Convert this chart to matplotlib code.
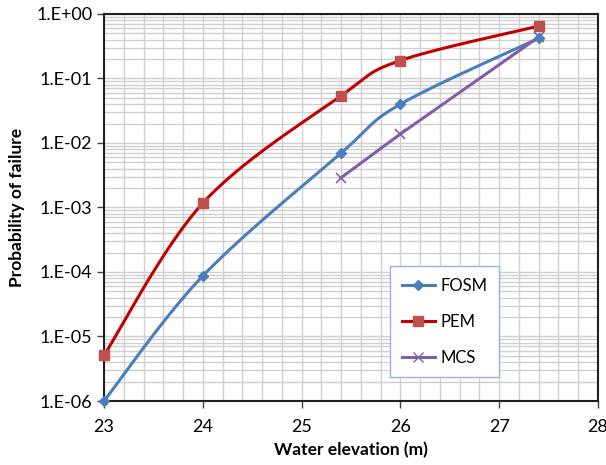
import numpy as np
import matplotlib
matplotlib.use("Agg")
import matplotlib.pyplot as plt
from matplotlib.ticker import FixedLocator, FuncFormatter, LogLocator, MultipleLocator
from matplotlib.lines import Line2D

plt.rcParams['font.family'] = ['Lato', 'DejaVu Sans']

fosm_x = [23.0, 24.0, 25.4, 26.0, 27.4]
fosm_y = [1.0e-6, 8.7e-5, 7.0e-3, 4.0e-2, 0.42]
pem_x = [23.0, 24.0, 25.4, 26.0, 27.4]
pem_y = [5.1e-6, 1.17e-3, 5.4e-2, 0.19, 0.65]
mcs_x = [25.4, 26.0, 27.4]
mcs_y = [2.9e-3, 1.38e-2, 0.44]
x_ticks = [23, 24, 25, 26, 27, 28]
y_ticks = [1e-6, 1e-5, 1e-4, 1e-3, 1e-2, 1e-1, 1e0]

def smooth(xs, ys, n=40):
    # Excel-like smoothed line (Catmull-Rom / Bezier) in x, log10(y) space
    px = np.array(xs, float)
    py = np.log10(np.array(ys, float))
    P = np.column_stack([px, py])
    P = np.vstack([P[0], P, P[-1]])
    out = []
    for i in range(1, len(P) - 2):
        p0, p1, p2, p3 = P[i-1], P[i], P[i+1], P[i+2]
        c1 = p1 + (p2 - p0) / 6.0
        c2 = p2 - (p3 - p1) / 6.0
        t = np.linspace(0, 1, n)[:, None]
        seg = ((1-t)**3)*p1 + 3*((1-t)**2)*t*c1 + 3*(1-t)*(t**2)*c2 + (t**3)*p2
        out.append(seg if i == 1 else seg[1:])
    out = np.vstack(out)
    return out[:, 0], 10**out[:, 1]

fig = plt.figure(figsize=(6.06, 4.65), dpi=100)
ax = fig.add_axes([104/606, 64/465, 494/606, 387/465])
ax.set_yscale('log')
ax.set_xlim(23, 28)
ax.set_ylim(1e-6, 1)

blue = '#4a7ebb'
red = '#c00000'
purple = '#7f5fa8'

sx, sy = smooth(fosm_x, fosm_y)
ax.plot(sx, sy, color=blue, lw=2.2, zorder=3)
ax.plot(fosm_x, fosm_y, ls='none', marker='D', ms=5, color=blue, zorder=4, clip_on=False)
sx, sy = smooth(pem_x, pem_y)
ax.plot(sx, sy, color=red, lw=2.2, zorder=3)
ax.plot(pem_x, pem_y, ls='none', marker='s', ms=6.5, color='#c0504d', zorder=4, clip_on=False)
ax.plot(mcs_x, mcs_y, color=purple, lw=2.2, marker='x', ms=7, mew=1.2, zorder=3)

ax.yaxis.set_major_locator(FixedLocator(y_ticks))
ax.yaxis.set_minor_locator(LogLocator(base=10, subs=np.arange(2, 10), numticks=20))
ax.yaxis.set_major_formatter(FuncFormatter(lambda v, p: '1.E+00' if v >= 1 else '1.E-%02d' % round(-np.log10(v))))
ax.yaxis.set_minor_formatter(FuncFormatter(lambda v, p: ''))
ax.xaxis.set_major_locator(FixedLocator(x_ticks))
ax.xaxis.set_minor_locator(MultipleLocator(0.2))

ax.grid(True, which='both', color='#d0d0d0', lw=1.0)
ax.set_axisbelow(True)
ax.tick_params(which='minor', length=0)
ax.tick_params(which='major', direction='out', length=5, width=1, labelsize=13, color='#404040')
ax.tick_params(axis='x', pad=8)
for s in ax.spines.values():
    s.set_linewidth(1.5)
    s.set_color('#202020')

ax.set_xlabel('Water elevation (m)', fontsize=12.5, fontweight='bold', labelpad=5)
ax.set_ylabel('Probability of failure', fontsize=12.5, fontweight='bold', labelpad=8)

handles = [Line2D([], [], color=blue, lw=2.2, marker='D', ms=5),
           Line2D([], [], color=red, lw=2.2, marker='s', ms=6.5, mfc='#c0504d', mec='#c0504d'),
           Line2D([], [], color=purple, lw=2.2, marker='x', ms=7)]
leg = ax.legend(handles, ['FOSM', 'PEM', 'MCS'], loc='upper left',
                bbox_to_anchor=((390-104)/494, (401-266)/387), fontsize=12,
                frameon=True, fancybox=False, framealpha=1, edgecolor='#95b3d7',
                handlelength=2.0, labelspacing=1.2, borderpad=0.7, handletextpad=0.3,
                borderaxespad=0)
leg.get_frame().set_linewidth(1.0)

fig.savefig('out.png', dpi=100)
